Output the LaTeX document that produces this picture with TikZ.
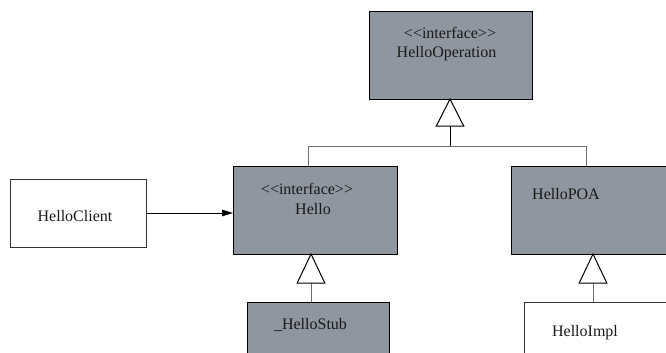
\documentclass[tikz,border=0pt]{standalone}
\usepackage{fontspec}
\setmainfont{Liberation Serif}
\usetikzlibrary{arrows.meta}
\definecolor{ifacegray}{RGB}{143,150,159}
\definecolor{linegray}{RGB}{110,110,110}
\newcommand\lguil{<\kern0pt<}
\newcommand\rguil{>\kern0pt>}
\tikzset{
  umlbox/.style={draw=black, line width=1pt, rectangle, inner sep=0pt, anchor=north west},
  graybox/.style={umlbox, fill=ifacegray},
  whitebox/.style={umlbox, fill=white},
  lbl/.style={anchor=base, inner sep=0pt, font=\fontsize{16}{19}\selectfont, text=black!90},
  bus/.style={draw=linegray, line width=1pt},
  genhead/.style={draw=black, line width=1pt, fill=white, line join=miter},
  assoc/.style={draw=black, line width=1pt, -{Triangle[length=11pt,width=6.5pt]}}
}
\begin{document}
\begin{tikzpicture}[x=1pt,y=-1pt]
\useasboundingbox (0,0) rectangle (666,353);
% class boxes
\node[graybox, minimum width=163pt, minimum height=88pt] (op) at (369,11) {};
\node[graybox, minimum width=164pt, minimum height=88pt] (hello) at (233,166) {};
\node[graybox, minimum width=160pt, minimum height=88pt] (poa) at (511,166) {};
\node[whitebox, draw=black!80, minimum width=136pt, minimum height=68pt] (client) at (10,179) {};
\node[graybox, minimum width=142pt, minimum height=60pt] (stub) at (247,302) {};
\node[whitebox, draw=black!80, minimum width=150pt, minimum height=60pt] (impl) at (524,302) {};
% labels
\node[lbl] (opst) at (450,38) {\lguil interface\rguil};
\node[lbl] (opname) at (446.5,58) {HelloOperation};
\node[lbl] (hst) at (307,194) {\lguil interface\rguil};
\node[lbl] (hname) at (313,214) {Hello};
\node[lbl] (poaname) at (566,199) {HelloPOA};
\node[lbl] (clname) at (75,221) {HelloClient};
\node[lbl] (stubname) at (310.5,329) {\_HelloStub};
\node[lbl] (implname) at (585,336) {HelloImpl};
% generalization to HelloOperation
\coordinate (optip) at (450,99);
\coordinate (opbase) at (450,126);
\coordinate (junction) at (450,146);
\coordinate (hleft) at (308,146);
\coordinate (pright) at (586,146);
\draw[bus] (hello.north -| hleft) -- (hleft) -- (pright) -- (poa.north -| pright);
\draw[line width=1pt] (opbase) -- (junction);
\draw[genhead] (optip) -- ++(-13.7,27) -- ++(27.4,0) -- cycle;
% generalization _HelloStub -> Hello
\coordinate (stip) at (311,254);
\draw[bus] (stub.north -| stip) -- (311,283);
\draw[genhead] (stip) -- ++(-13.8,29) -- ++(27.6,0) -- cycle;
% generalization HelloImpl -> HelloPOA
\coordinate (itip) at (593,254);
\draw[bus] (impl.north -| itip) -- (593,283);
\draw[genhead] (itip) -- ++(-13.8,29) -- ++(27.6,0) -- cycle;
% association HelloClient -> Hello
\draw[assoc] (client.east |- 0,213) -- (hello.west |- 0,213);
\end{tikzpicture}
\end{document}
